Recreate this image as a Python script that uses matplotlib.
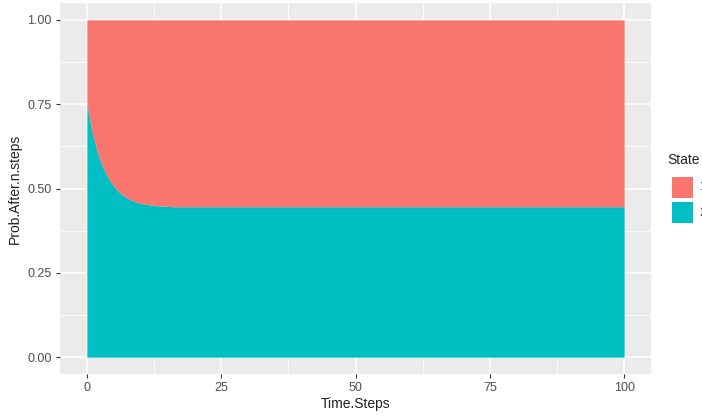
import matplotlib
matplotlib.use("Agg")
import matplotlib.pyplot as plt
from matplotlib.patches import Rectangle

plt.rcParams['font.family'] = ['Liberation Sans', 'DejaVu Sans']

# Probability of being in state 2 after n steps (state 1 fills the rest)
time_steps = [0, 1, 2, 3, 4, 5, 6, 7, 8, 9, 10, 11, 12, 13, 14, 15, 16, 17, 18, 20, 100]
prob_state2 = [0.750, 0.665, 0.605, 0.562, 0.530, 0.507, 0.489, 0.477, 0.467, 0.461,
               0.456, 0.453, 0.451, 0.449, 0.448, 0.447, 0.446, 0.446, 0.446, 0.446, 0.446]
states = ["1", "2"]
state_colors = ["#F8766D", "#00BFC4"]
x_ticks = [0, 25, 50, 75, 100]
y_ticks = [0.00, 0.25, 0.50, 0.75, 1.00]

W, H = 702, 416
fig = plt.figure(figsize=(W / 100, H / 100), dpi=100)
fig.patch.set_facecolor("white")
ax = fig.add_axes([60 / W, 1 - 374 / H, (651 - 60) / W, (374 - 3) / H])
ax.set_facecolor("#EBEBEB")

ax.fill_between(time_steps, 0, prob_state2, color=state_colors[1], linewidth=0, zorder=3)
ax.fill_between(time_steps, prob_state2, 1, color=state_colors[0], linewidth=0, zorder=3)

ax.set_xlim(-5, 105)
ax.set_ylim(-0.05, 1.05)
ax.set_xticks(x_ticks)
ax.set_xticklabels([str(v) for v in x_ticks])
ax.set_yticks(y_ticks)
ax.set_yticklabels([f"{v:.2f}" for v in y_ticks])
ax.set_xticks([12.5, 37.5, 62.5, 87.5], minor=True)
ax.set_yticks([0.125, 0.375, 0.625, 0.875], minor=True)
ax.grid(which="major", color="white", linewidth=1.1, zorder=1)
ax.grid(which="minor", color="white", linewidth=0.55, zorder=1)
ax.set_axisbelow(True)
for s in ax.spines.values():
    s.set_visible(False)
ax.tick_params(which="major", length=3, width=0.8, color="#333333",
               labelcolor="#4D4D4D", labelsize=9, pad=3)
ax.tick_params(which="minor", length=0)

ax.set_xlabel("Time.Steps", fontsize=10, color="#222222", labelpad=2)
ax.set_ylabel("Prob.After.n.steps", fontsize=10, color="#222222", labelpad=4)

# Legend drawn by hand on the figure
fig.text(667 / W, 1 - 160 / H, "State", fontsize=10, color="#222222",
         ha="left", va="center")
key_y = [177, 202]
for lab, col, ky in zip(states, state_colors, key_y):
    fig.patches.append(Rectangle((672 / W, 1 - (ky + 21) / H), 21 / W, 21 / H,
                                 facecolor=col, edgecolor="none",
                                 transform=fig.transFigure, figure=fig))
    fig.text(699 / W, 1 - (ky + 10.5) / H, lab, fontsize=9, color="#4D4D4D",
             ha="left", va="center")

fig.savefig("out.png", dpi=100)
